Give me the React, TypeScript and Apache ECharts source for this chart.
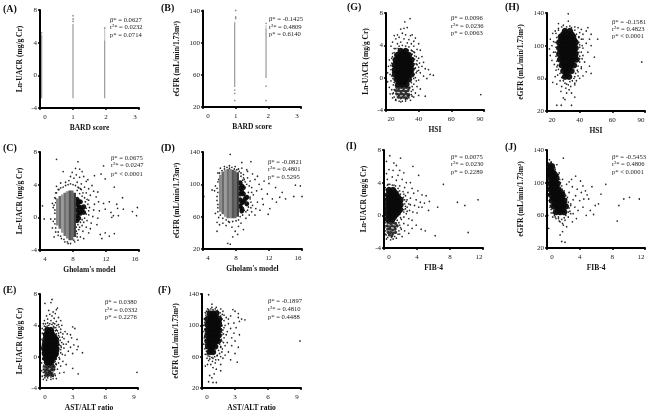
import React, { useEffect, useRef } from "react";
import * as echarts from "echarts";

// [x, low, high] vertical bands of stacked points
const aStrips = [[0.05, -2.8, 5.0], [1, -2.8, 6.3], [1.96, -2.8, 4.3], [1.96, 4.3, 5.7]];
const bStrips = [[0.97, 45, 125], [0.97, 125, 126], [1.93, 56, 118], [1.93, 118, 122]];
const aDots = [1, 6.6, 1, 6.9, 1, 7.3, 0.05, 5.2, 1.96, 5.8];
const bDots = [1, 140, 1, 132, 1, 130, 0.97, 41, 0.97, 37, 0.97, 28, 1.93, 46, 1.93, 28, 1.93, 124];
const cStripes = [[6.1, -1.0, 2.3], [6.4, -1.4, 2.6], [6.7, -1.9, 2.8], [7.0, -2.3, 3.0], [7.3, -2.6, 3.2], [7.6, -2.8, 3.3], [7.9, -2.8, 3.3], [8.2, -2.4, 3.0]];
const dStripes = [[6.1, 66, 112], [6.4, 63, 116], [6.7, 60, 118], [7.0, 58, 119], [7.3, 58, 119], [7.6, 58, 118], [7.9, 58, 117], [8.2, 60, 115]];

const cCore = [8.5, 2.2, 8.9, 1.9, 8.5, 1.6, 8.9, 1.2, 9.3, 1.3, 8.5, 0.9, 8.9, 0.5, 9.3, 0.6, 8.5, 0.2, 8.5, -0.4, 8.7, 1.9, 8.7, 1.3, 9.1, 0.9, 8.7, 0.6, 8.7, -0.1];
const dCore = [8.5, 102, 8.5, 95, 8.9, 96, 8.5, 88, 8.9, 88, 9.3, 84, 8.5, 81, 8.9, 79, 9.3, 76, 8.5, 73, 8.7, 67, 8.7, 98, 8.7, 91, 9.1, 82, 8.7, 77, 8.7, 70];
const eCore = [0.7, 3.4, 1.0, 3.4, 0.55, 2.8, 0.85, 2.8, 1.15, 2.8, 0.5, 2.2, 0.85, 2.2, 1.2, 2.2, 1.45, 2.2, 0.45, 1.6, 0.8, 1.6, 1.15, 1.6, 1.5, 1.6, 0.4, 1.0, 0.8, 1.0, 1.15, 1.0, 1.5, 1.0, 0.45, 0.4, 0.8, 0.4, 1.15, 0.4, 1.45, 0.4, 0.5, -0.2, 0.85, -0.2, 1.2, -0.2, 0.65, -0.7, 1.0, -0.7, 0.7, 3.1, 1.0, 3.1, 0.7, 2.5, 1.0, 2.5, 1.3, 2.5, 0.65, 1.9, 1.0, 1.9, 1.35, 1.9, 0.6, 1.3, 1.0, 1.3, 1.35, 1.3, 0.6, 0.7, 1.0, 0.7, 1.3, 0.7, 0.65, 0.1, 1.0, 0.1, 1.3, 0.1, 0.7, -0.45, 1.0, -0.45];
const eMid = [0.6, -1.0, 0.8, -1.1, 1.0, -1.0, 1.2, -1.1, 0.5, -1.3, 0.7, -1.4, 0.9, -1.3, 1.1, -1.4, 1.3, -1.3, 0.45, -1.7, 0.65, -1.7, 0.85, -1.8, 1.05, -1.7, 1.25, -1.7, 0.5, -2.0, 0.7, -2.1, 0.9, -2.0, 1.1, -2.1, 0.55, -2.4, 0.75, -2.4, 0.95, -2.3, 1.15, -2.4];
const fCore = [0.7, 115, 1.0, 115, 1.3, 115, 0.5, 108, 0.85, 108, 1.2, 108, 1.55, 108, 0.5, 101, 0.85, 101, 1.2, 101, 1.55, 101, 0.5, 94, 0.85, 94, 1.2, 94, 1.55, 94, 0.5, 87, 0.85, 87, 1.2, 87, 1.5, 87, 0.5, 80, 0.85, 80, 1.2, 80, 1.45, 80, 0.55, 73, 0.9, 73, 1.2, 73, 0.7, 66, 1.0, 66, 0.85, 111, 1.15, 111, 0.7, 104, 1.05, 104, 1.4, 104, 0.7, 97, 1.05, 97, 1.4, 97, 0.7, 90, 1.05, 90, 1.4, 90, 0.7, 83, 1.05, 83, 1.35, 83, 0.75, 76, 1.05, 76, 0.85, 69];
const gCore = [29, 3.3, 32, 3.3, 27, 2.8, 29.5, 2.8, 32, 2.8, 34, 2.8, 26, 2.2, 28.5, 2.2, 31, 2.2, 33.5, 2.2, 35.5, 2.2, 25.5, 1.6, 28, 1.6, 30.5, 1.6, 33, 1.6, 35.5, 1.6, 25.5, 1.0, 28, 1.0, 30.5, 1.0, 33, 1.0, 35.5, 1.0, 25.5, 0.4, 28, 0.4, 30.5, 0.4, 33, 0.4, 35.5, 0.4, 26.5, -0.2, 29, -0.2, 31.5, -0.2, 34, -0.2, 27.5, -0.8, 30, -0.8, 32.5, -0.8, 30.5, 3.0, 28, 2.5, 30.5, 2.5, 33, 2.5, 27, 1.9, 29.5, 1.9, 32, 1.9, 34.5, 1.9, 27, 1.3, 29.5, 1.3, 32, 1.3, 34.5, 1.3, 27, 0.7, 29.5, 0.7, 32, 0.7, 34.5, 0.7, 27.5, 0.1, 30, 0.1, 32.5, 0.1, 28.5, -0.5, 31, -0.5];
const gMid = [26.5, -1.2, 28, -1.3, 29.5, -1.2, 31, -1.3, 32.5, -1.2, 34, -1.3, 26, -1.6, 27.5, -1.6, 29, -1.7, 30.5, -1.6, 32, -1.7, 33.5, -1.6, 26.5, -2.0, 28, -2.1, 29.5, -2.0, 31, -2.1, 32.5, -2.0, 34, -2.1, 27.5, -2.4, 29, -2.5, 30.5, -2.4, 32, -2.5, 33.5, -2.3];
const hCore = [31, 118, 34, 118, 28.5, 111, 31, 111, 33.5, 111, 36, 111, 27.5, 104, 30, 104, 32.5, 104, 35, 104, 37.5, 104, 27.5, 97, 30, 97, 32.5, 97, 35, 97, 37.5, 97, 27.5, 90, 30, 90, 32.5, 90, 35, 90, 37.5, 90, 28, 83, 30.5, 83, 33, 83, 35.5, 83, 38, 83, 29, 76, 31.5, 76, 34, 76, 36.5, 76, 30, 69, 32.5, 69, 35, 69, 31, 62, 33.5, 62, 30, 114, 32.5, 114, 35, 114, 29, 107, 31.5, 107, 34, 107, 36.5, 107, 29, 100, 31.5, 100, 34, 100, 36.5, 100, 29, 93, 31.5, 93, 34, 93, 36.5, 93, 29.5, 86, 32, 86, 34.5, 86, 37, 86, 30, 79, 32.5, 79, 35, 79, 31, 72, 33.5, 72, 32, 65];
const iCore = [0.6, 3.1, 1.1, 3.1, 0.5, 2.5, 1.0, 2.5, 1.5, 2.5, 0.45, 1.9, 0.95, 1.9, 1.45, 1.9, 2.0, 1.9, 0.45, 1.3, 0.95, 1.3, 1.45, 1.3, 2.0, 1.3, 0.45, 0.7, 0.95, 0.7, 1.45, 0.7, 1.95, 0.7, 0.45, 0.1, 0.95, 0.1, 1.45, 0.1, 0.5, -0.5, 1.0, -0.5, 0.8, 2.8, 1.3, 2.8, 0.7, 2.2, 1.2, 2.2, 1.7, 2.2, 0.7, 1.6, 1.2, 1.6, 1.7, 1.6, 0.7, 1.0, 1.2, 1.0, 1.7, 1.0, 0.7, 0.4, 1.2, 0.4, 1.7, 0.4, 0.75, -0.2, 1.2, -0.2];
const iMid = [0.5, -0.9, 0.8, -1.0, 1.1, -0.9, 1.4, -1.0, 0.4, -1.3, 0.7, -1.4, 1.0, -1.3, 1.3, -1.4, 1.6, -1.3, 0.45, -1.7, 0.75, -1.7, 1.05, -1.8, 1.35, -1.7, 0.5, -2.1, 0.8, -2.1, 1.1, -2.2, 1.4, -2.1, 0.65, -2.4, 0.95, -2.5];
const jCore = [0.3, 120, 0.6, 120, 0.3, 113, 0.7, 113, 0.35, 106, 0.8, 106, 1.15, 106, 0.4, 99, 0.85, 99, 1.3, 99, 0.4, 92, 0.9, 92, 1.4, 92, 0.5, 85, 1.0, 85, 1.5, 85, 1.9, 85, 0.6, 78, 1.1, 78, 1.6, 78, 2.1, 78, 0.8, 71, 1.3, 71, 1.8, 71, 2.3, 71, 1.1, 64, 1.6, 64, 2.1, 64, 0.45, 116, 0.5, 110, 0.95, 110, 0.6, 102, 1.05, 102, 0.6, 95, 1.1, 95, 0.7, 88, 1.2, 88, 1.7, 88, 0.85, 81, 1.3, 81, 1.8, 81, 1.0, 74, 1.5, 74, 2.0, 74, 1.4, 67, 1.9, 67];

const cDots = [6.0, 7.1, 8.6, 6.8, 8.3, 6.0, 8.8, 5.9, 7.9, 5.5, 9.1, 5.6, 8.4, 5.2, 6.8, 5.6, 7.7, 5.0, 8.1, 4.8, 8.8, 4.9, 9.3, 5.0, 9.6, 4.4, 9.8, 4.6, 10.3, 3.9, 8.5, 4.3, 9.0, 4.1, 7.1, 4.3, 7.5, 4.5, 6.5, 4.2, 6.0, 3.8, 6.3, 3.4, 5.9, 3.0, 9.4, 3.7, 9.9, 3.5, 10.5, 3.2, 9.0, 3.4, 8.7, 3.6, 9.6, 3.0, 10.1, 2.7, 10.8, 2.5, 11.0, 3.1, 10.6, 5.1, 11.4, 5.3, 11.7, 6.3, 11.9, 4.7, 13.0, 3.7, 14.0, 2.4, 13.3, 1.6, 12.4, 1.9, 11.7, 1.7, 11.1, 1.9, 10.6, 1.6, 9.9, 2.1, 10.0, 1.2, 10.5, 0.9, 11.2, 0.8, 11.9, 1.0, 12.6, 0.6, 12.9, 0.2, 12.7, 0.0, 13.4, 1.1, 14.1, 1.0, 13.5, 0.2, 15.8, 1.2, 15.2, 0.7, 15.7, 0.2, 9.9, 0.3, 10.4, 0.1, 11.0, -0.1, 9.7, -0.4, 9.3, -0.6, 10.2, -0.7, 10.9, -0.9, 9.1, -1.0, 9.6, -1.2, 10.1, -1.4, 8.7, -1.5, 9.2, -1.7, 9.9, -1.9, 11.3, -2.1, 11.9, -1.9, 12.4, -2.3, 13.0, -2.0, 11.5, -2.6, 8.5, -2.0, 8.9, -2.4, 9.3, -2.6, 8.6, -2.8, 8.2, -3.0, 7.0, -3.0, 7.4, -3.2, 6.6, -2.6, 6.2, -2.2, 5.9, -1.8, 5.7, -2.4, 5.5, -1.3, 5.8, -0.8, 5.3, -0.2, 4.5, -0.2, 5.5, 1.7, 5.6, 1.2, 5.8, 0.5, 5.9, 1.8, 4.3, 1.4, 5.6, -0.5, 5.9, 2.3, 6.0, 3.0, 6.2, 3.4, 6.5, 3.6, 6.8, 3.7, 7.1, 3.9, 7.4, 4.0, 7.7, 4.1, 8.0, 4.0, 8.3, 3.9, 8.6, 3.7, 8.9, 3.5, 9.2, 3.0, 8.5, 3.3, 8.8, 2.9, 9.1, 2.6, 9.4, 2.4, 9.7, 2.2, 9.5, 1.9, 9.8, 1.6, 9.6, 1.1, 9.9, 0.8, 9.6, 0.4, 9.4, -0.1, 9.1, -0.3, 8.9, -0.6, 8.6, -0.9, 8.4, -1.2, 8.8, -1.2, 8.4, -1.7, 8.3, -2.2, 8.5, -2.4, 8.1, -2.8, 7.7, -3.2, 7.3, -3.0, 6.9, -2.7, 6.5, -2.3, 6.2, -1.8, 5.9, -1.3, 5.8, -0.2, 5.8, 0.9, 5.7, 1.5, 5.8, 2.4];
const dDots = [4.1, 85, 15.8, 98, 16, 85, 15, 85, 15.2, 99, 14, 82, 13.3, 84, 13.6, 90, 12.8, 96, 12.9, 78, 12.4, 82, 12.1, 70, 11.8, 88, 12.0, 101, 11.4, 104, 10.8, 100, 11.1, 94, 10.3, 106, 10.6, 110, 9.8, 128, 8.7, 127, 7.3, 137, 9.4, 116, 8.9, 112, 9.7, 104, 9.3, 118, 8.3, 119, 8.7, 120, 7.9, 122, 7.2, 123, 6.6, 122, 6.1, 120, 5.8, 114, 5.9, 106, 5.5, 98, 5.8, 90, 5.4, 92, 5.1, 93, 5.7, 80, 5.8, 71, 5.5, 64, 5.9, 59, 5.7, 53, 6.0, 50, 5.7, 42, 6.4, 52, 6.8, 49, 7.1, 54, 7.5, 47, 7.9, 42, 8.3, 48, 8.6, 52, 8.9, 44, 8.2, 38, 7.6, 35, 7.0, 27, 7.3, 26, 9.2, 58, 9.6, 62, 9.9, 66, 10.4, 70, 10.0, 74, 10.6, 78, 11.2, 82, 9.7, 82, 10.1, 87, 10.5, 92, 9.9, 96, 9.5, 90, 9.8, 71, 10.3, 62, 9.2, 66, 10.9, 68, 9.4, 108, 10.0, 113, 8.6, 110, 9.0, 106, 11.3, 75, 11.9, 63, 6.0, 114, 6.3, 117, 6.6, 119, 6.9, 121, 7.2, 120, 7.5, 121, 7.8, 119, 8.1, 118, 8.4, 116, 8.6, 114, 8.9, 108, 9.1, 103, 8.8, 105, 9.3, 100, 9.6, 98, 9.9, 90, 9.7, 84, 9.8, 78, 9.5, 72, 9.4, 68, 9.0, 68, 8.8, 62, 8.5, 60, 8.3, 56, 8.0, 55, 7.6, 54, 7.2, 53, 6.8, 56, 6.4, 58, 6.1, 62, 5.8, 66, 5.8, 75, 5.7, 85, 5.7, 95, 5.8, 103];
const eDots = [0.45, 6.8, 1.1, 7.3, 1.0, 6.9, 1.6, 6.2, 1.5, 6.0, 1.2, 5.7, 0.8, 5.9, 1.4, 5.5, 0.9, 5.4, 0.6, 5.2, 1.1, 5.2, 1.3, 4.9, 1.7, 5.0, 1.9, 4.6, 1.5, 4.5, 0.7, 4.8, 0.4, 4.6, 1.0, 4.6, 0.3, 4.2, 1.2, 4.3, 1.7, 4.1, 2.0, 4.0, 3.0, 3.8, 3.2, 3.6, 2.3, 3.2, 2.5, 2.9, 2.8, 2.8, 1.9, 3.5, 2.1, 2.9, 3.4, 2.2, 2.9, 2.4, 2.2, 2.3, 2.6, 1.9, 3.1, 1.5, 3.5, 1.3, 2.4, 1.6, 2.0, 1.8, 2.8, 1.2, 3.4, 0.9, 3.9, 0.5, 2.2, 1.1, 2.6, 0.7, 3.0, 0.4, 2.3, 0.2, 1.9, 0.5, 1.8, -0.3, 2.1, -0.6, 2.4, -1.0, 3.0, -1.5, 3.5, -2.2, 8.9, -2.0, 1.9, -1.2, 1.6, -1.6, 1.8, -2.1, 2.2, -2.0, 1.4, -2.4, 1.5, -2.8, 0.3, -2.9, 0.6, -3.0, 1.0, -2.9, 0.2, -2.5, 0.15, -1.8, 0.15, -0.8, 0.05, 0.5, 0.1, 1.3, 0.1, 2.2, 0.2, 3.0, 0.2, 3.6, 1.7, 3.0, 1.6, 0.2, 1.7, -0.8, 1.4, -0.6, 1.8, 2.5, 1.9, 1.4, 1.7, 0.9, 1.5, 3.4, 1.3, 3.7, 0.8, 4.0, 0.5, 3.8, 0.25, -0.3, 0.25, 0.9, 0.3, -1.3, 1.5, -1.0, 0.5, 4.2, 0.7, 4.3, 0.9, 4.2, 1.1, 4.1, 1.35, 4.2, 1.55, 4.0, 0.4, 3.9, 0.65, 3.9, 1.25, 3.85, 1.45, 3.7, 1.75, 3.8, 0.35, 3.4, 0.5, 3.6, 1.4, 3.3, 1.6, 3.3, 1.9, 3.1, 0.3, 2.9, 0.35, 2.5, 1.5, 2.9, 1.7, 2.7, 1.65, 2.3, 1.85, 2.1, 2.05, 2.5, 0.25, 2.0, 0.3, 1.5, 1.7, 1.9, 1.75, 1.5, 1.95, 1.2, 2.15, 1.6, 0.2, 1.1, 0.25, 0.6, 1.7, 1.1, 1.7, 0.7, 1.9, 0.9, 2.05, 0.3, 0.3, 0.2, 0.3, -0.3, 1.6, 0.5, 1.55, 0.1, 1.5, -0.3, 1.75, -0.1, 0.4, -0.7, 1.3, -0.7, 1.45, -0.9, 0.35, -1.1, 0.3, -1.6, 1.35, -1.6, 0.3, -2.0, 1.35, -2.2, 1.2, -2.5, 0.4, -2.4, 0.45, -2.7, 0.7, -2.7, 1.0, -2.6, 1.2, -2.8];
const fDots = [0.6, 139, 0.9, 127, 2.8, 120, 3.0, 118, 3.3, 115, 3.6, 108, 3.9, 107, 3.4, 105, 3.3, 110, 2.6, 112, 2.4, 108, 2.9, 103, 3.1, 97, 2.4, 102, 2.2, 110, 2.0, 113, 1.9, 118, 1.7, 121, 1.3, 123, 0.9, 123, 0.5, 121, 0.3, 116, 0.2, 108, 0.15, 100, 0.1, 92, 0.2, 84, 0.15, 76, 0.25, 70, 0.3, 63, 0.45, 58, 2.1, 100, 2.6, 96, 2.3, 92, 2.9, 90, 2.2, 88, 3.4, 88, 2.7, 84, 2.0, 84, 3.0, 80, 2.3, 78, 2.7, 74, 2.1, 74, 3.3, 72, 2.4, 66, 3.0, 64, 2.1, 62, 2.6, 56, 3.2, 53, 1.8, 66, 1.9, 58, 1.5, 56, 1.7, 50, 1.2, 52, 0.8, 50, 0.5, 50, 0.3, 48, 1.0, 46, 1.3, 44, 1.7, 42, 1.1, 38, 0.7, 36, 0.9, 33, 0.6, 28, 1.0, 27, 1.3, 27, 8.9, 80, 1.8, 108, 1.8, 100, 1.9, 94, 1.8, 88, 1.8, 80, 1.7, 72, 1.0, 58, 0.7, 57, 1.4, 62, 0.6, 120, 0.8, 121, 1.0, 120, 1.2, 121, 1.4, 119, 0.4, 118, 0.55, 118, 1.5, 117, 1.65, 116, 1.85, 114, 0.35, 113, 0.3, 109, 1.7, 112, 1.8, 108, 2.0, 106, 0.25, 104, 0.3, 100, 1.75, 104, 1.8, 99, 2.0, 97, 0.25, 95, 0.3, 90, 1.75, 95, 1.8, 91, 1.95, 89, 0.25, 86, 0.3, 81, 1.7, 86, 1.75, 82, 1.95, 78, 0.3, 76, 0.35, 71, 1.6, 76, 1.7, 73, 1.85, 70, 0.4, 67, 0.45, 63, 1.5, 68, 1.6, 64, 1.7, 60, 0.55, 61, 0.7, 60, 0.9, 59, 1.15, 60, 1.35, 61, 0.6, 55, 0.95, 54, 1.25, 56];
const gDots = [34.7, 7.3, 31.5, 6.9, 29, 6.0, 31, 6.1, 33, 6.2, 27, 5.3, 25, 5.2, 30, 5.5, 32, 5.3, 35, 5.2, 28, 5.0, 36, 5.3, 38, 4.9, 26, 4.8, 31, 4.8, 34, 4.7, 37, 4.5, 40, 4.2, 24, 4.4, 29, 4.4, 33, 4.3, 35.5, 4.2, 27, 4.2, 23, 3.9, 25, 3.6, 37, 3.9, 39, 3.5, 41, 3.4, 24, 3.0, 37.5, 3.1, 38.5, 2.6, 40, 2.4, 42, 2.6, 43, 1.9, 22, 2.2, 23.5, 2.4, 21.5, 1.4, 23, 1.5, 38.5, 1.7, 40, 1.3, 42, 1.4, 44, 1.1, 46, 1.0, 49, 0.3, 47, 0.4, 39, 0.8, 41, 0.6, 43, 0.2, 45, -0.1, 21, 0.6, 22.5, 0.4, 23, -0.4, 21, -0.5, 38, 0.0, 40, -0.3, 37, -0.8, 39, -1.1, 41, -1.4, 36.5, -1.5, 38, -1.9, 44, -2.3, 40, -2.2, 78, -2.1, 36, -2.3, 35, -2.8, 32, -2.9, 29, -3.0, 26, -2.8, 24, -2.5, 22.5, -2.0, 23.5, -1.5, 22, -1.2, 24.5, -0.9, 37, -2.4, 24, -2.0, 33, -2.6, 36, 3.3, 24, 1.0, 38, 1.2, 36.5, 2.4, 28, 3.9, 30, 4.0, 32, 3.9, 34, 3.8, 26, 3.6, 27.5, 3.6, 33.5, 3.4, 35.5, 3.4, 37, 3.2, 25, 3.1, 25.5, 2.8, 36, 2.9, 37.5, 2.7, 24, 2.6, 24.5, 2.2, 37.5, 2.3, 39, 2.1, 23.5, 1.8, 24, 1.4, 37.5, 1.7, 39, 1.6, 40.5, 1.8, 23, 1.0, 24, 0.7, 37.5, 1.1, 38.5, 0.6, 40, 0.9, 23.5, 0.2, 24.2, -0.1, 37.3, 0.4, 37, -0.1, 38.5, -0.4, 25, -0.6, 25.8, -1.0, 35.5, -0.6, 36, -1.1, 34.5, -1.2, 25, -1.5, 24.5, -1.9, 35.5, -1.7, 35.5, -2.1, 25, -2.4, 26, -2.7, 28, -2.9, 30, -2.9, 32, -2.7, 34, -2.5];
const hDots = [33, 139, 27, 127, 33, 130, 30, 125, 34, 124, 37, 123, 39, 122, 41, 120, 45, 122, 44, 118, 47, 114, 51, 108, 46, 108, 42, 114, 40, 116, 25, 118, 27, 121, 23.5, 115, 22, 108, 23, 100, 21.5, 96, 24, 92, 22, 88, 23, 82, 24.5, 77, 25.5, 70, 26.5, 64, 25, 62, 23.5, 55, 26, 53, 28, 57, 29, 50, 32, 53, 34, 56, 37, 52, 28.5, 44, 32, 42, 35, 42, 37, 37, 31, 34, 30, 36, 26, 27, 28.7, 27, 35, 27, 42, 108, 44, 103, 47, 100, 42, 97, 40, 101, 45, 92, 42, 88, 49, 86, 40, 84, 43, 80, 46, 75, 41, 74, 47, 66, 44, 68, 42, 63, 40, 60, 39, 68, 38, 57, 78, 80, 39.5, 110, 24, 105, 26, 74, 37, 62, 41, 92, 29, 123, 32, 123, 35, 122, 37, 119, 27, 119, 25.5, 115, 26, 110, 38, 114, 39.5, 111, 41, 108, 25, 104, 25.5, 98, 39.5, 104, 40, 98, 41.5, 100, 25, 92, 25.5, 87, 39.5, 92, 40, 87, 41.5, 84, 26, 81, 26.5, 76, 40, 80, 39, 75, 41, 72, 27, 71, 28, 66, 38.5, 70, 37.5, 66, 39, 63, 29, 61, 30, 57, 36.5, 60, 35.5, 57, 37, 54, 31, 54, 33, 52, 34.5, 50, 31.5, 48, 33.5, 46];
const iDots = [11.4, 1.9, 10.2, -2.1, 9.8, 1.2, 8.9, 1.6, 7.2, 3.8, 6.2, -2.5, 6.5, 1.0, 5.5, 1.7, 5.4, 0.6, 5.0, -1.9, 4.5, -1.7, 3.5, 6.0, 4.2, 4.9, 2.0, 7.0, 0.7, 7.3, 1.2, 6.4, 1.5, 6.1, 0.3, 6.6, 1.9, 5.5, 1.1, 5.5, 0.6, 5.6, 2.4, 5.2, 1.7, 4.9, 0.3, 5.1, 1.0, 4.7, 0.4, 4.4, 1.5, 4.3, 2.2, 4.4, 2.7, 4.0, 3.2, 4.0, 3.4, 3.3, 2.5, 3.4, 1.9, 3.6, 2.9, 2.8, 3.6, 2.7, 4.1, 3.0, 4.6, 2.5, 5.1, 2.4, 2.6, 2.4, 3.2, 2.1, 3.9, 1.9, 4.4, 1.6, 4.9, 1.5, 2.7, 1.7, 3.2, 1.3, 3.7, 1.2, 4.2, 1.0, 4.6, 1.0, 2.8, 1.0, 3.1, 0.6, 3.5, 0.4, 4.0, 0.3, 2.7, 0.2, 2.4, -0.2, 3.0, -0.4, 3.4, -0.6, 3.9, -1.2, 3.4, -1.6, 2.9, -1.2, 2.4, -1.0, 2.0, -1.5, 2.5, -1.9, 3.0, -2.2, 1.9, -2.3, 2.2, -2.6, 1.5, -2.8, 0.8, -3.0, 0.3, -2.9, 0.15, -2.3, 0.1, -1.5, 0.1, -0.6, 0.1, 0.4, 0.1, 1.5, 0.1, 2.5, 0.15, 3.4, 0.5, 3.8, 1.2, 3.7, 1.9, 3.0, 2.4, 2.6, 2.6, 0.8, 2.1, -0.5, 0.4, 3.7, 0.7, 3.8, 1.0, 3.7, 1.4, 3.6, 1.7, 3.3, 0.25, 3.1, 0.2, 2.6, 1.7, 2.9, 2.0, 2.6, 2.3, 2.9, 0.2, 2.0, 0.2, 1.5, 2.35, 2.2, 2.5, 1.9, 2.8, 1.9, 0.2, 0.9, 2.5, 1.4, 2.6, 1.1, 3.0, 1.4, 0.2, 0.3, 2.4, 0.7, 2.4, 0.4, 2.8, 0.5, 0.2, -0.3, 1.9, 0.1, 2.0, -0.3, 1.6, -0.6, 1.8, -0.9, 0.2, -0.9, 0.2, -1.3, 1.9, -1.2, 2.1, -1.7, 0.2, -1.9, 0.25, -2.4, 1.8, -1.9, 1.7, -2.3, 0.45, -2.7, 0.9, -2.7, 1.3, -2.6, 1.1, -2.9];
const jDots = [11.3, 80, 10.1, 82, 9.4, 80, 8.8, 72, 8.6, 53, 7.2, 98, 6.6, 86, 6.3, 74, 5.9, 72, 5.5, 95, 5.1, 80, 4.9, 85, 5.3, 66, 5.7, 61, 4.7, 90, 4.4, 96, 4.1, 102, 3.5, 108, 3.0, 104, 2.0, 130, 0.3, 128, 0.5, 125, 1.2, 122, 1.0, 116, 1.5, 112, 1.9, 104, 2.4, 98, 2.7, 101, 3.1, 95, 3.7, 92, 4.2, 88, 4.5, 80, 4.0, 78, 3.5, 84, 3.2, 79, 2.7, 88, 2.5, 82, 2.9, 74, 3.4, 70, 3.8, 66, 4.4, 70, 4.8, 60, 3.2, 62, 2.8, 65, 2.6, 58, 3.1, 52, 3.6, 56, 2.2, 54, 2.4, 46, 1.9, 50, 1.5, 53, 1.1, 56, 0.7, 58, 0.5, 63, 0.35, 70, 0.3, 78, 0.15, 86, 0.1, 60, 0.2, 44, 1.9, 40, 1.8, 28, 2.2, 27, 1.6, 36, 1.6, 92, 2.1, 90, 2.2, 70, 1.4, 58, 0.2, 124, 0.5, 125, 0.8, 122, 0.15, 116, 0.2, 108, 0.95, 118, 1.05, 113, 1.4, 110, 0.2, 100, 0.2, 92, 1.55, 104, 1.65, 100, 1.8, 96, 0.25, 85, 0.3, 78, 1.85, 92, 2.1, 88, 2.3, 84, 0.4, 72, 0.5, 67, 2.4, 80, 2.6, 76, 2.9, 72, 0.7, 63, 0.9, 60, 2.7, 69, 2.6, 64, 2.9, 62, 1.0, 58, 1.4, 56, 2.3, 60, 2.1, 57, 1.8, 55, 1.6, 52, 2.0, 48];

const stats = {
  A: ["β* = 0.0627", "r²* = 0.0232", "p* = 0.0714"],
  B: ["β* = -0.1425", "r²* = 0.4809", "p* = 0.6140"],
  C: ["β* = 0.0675", "r²* = 0.0247", "p* < 0.0001"],
  D: ["β* = -0.0821", "r²* = 0.4801", "p* = 0.5295"],
  E: ["β* = 0.0380", "r²* = 0.0332", "p* = 0.2276"],
  F: ["β* = -0.1897", "r²* = 0.4810", "p* = 0.4488"],
  G: ["β* = 0.0096", "r²* = 0.0236", "p* = 0.0063"],
  H: ["β* = -0.1581", "r²* = 0.4823", "p* < 0.0001"],
  I: ["β* = 0.0075", "r²* = 0.0230", "p* = 0.2289"],
  J: ["β* = -0.5453", "r²* = 0.4806", "p* < 0.0001"],
};
const uacrName = "Ln-UACR (mg/g Cr)";
const gfrName = "eGFR (mL/min/1.73m²)";
const hsiTickLabels: Record<number, string> = { 20: "20", 40: "40", 60: "60", 80: "90" };

const SERIF = "'Liberation Serif', serif";
const pairs = (a: number[]) => {
  const out: number[][] = [];
  for (let i = 0; i < a.length; i += 2) out.push([a[i], a[i + 1]]);
  return out;
};

type P = {
  id: string; l: number; r: number; t: number; b: number; xr: number[]; xi: number; xName: string; gfr: boolean;
  lx: number; ly: number; sx: number; sy: number[]; dots?: number[]; core?: number[]; mid?: number[]; strips?: number[][]; stripes?: number[][]; labels?: Record<number, string>;
};
const panels: P[] = [
  { id: "A", l: 40, r: 139, t: 10, b: 108, xr: [0, 3], xi: 1, xName: "BARD score", gfr: false, lx: 3, ly: 8, sx: 110, sy: [19, 26, 34], dots: aDots, strips: aStrips },
  { id: "B", l: 203, r: 301, t: 10.5, b: 107, xr: [0, 3], xi: 1, xName: "BARD score", gfr: true, lx: 161, ly: 7, sx: 269, sy: [18, 26, 33], dots: bDots, strips: bStrips },
  { id: "C", l: 40, r: 139, t: 152, b: 250, xr: [4, 16], xi: 4, xName: "Gholam's model", gfr: false, lx: 3, ly: 147, sx: 111, sy: [157, 164, 173], dots: cDots, core: cCore, stripes: cStripes },
  { id: "D", l: 203, r: 302, t: 152, b: 249, xr: [4, 16], xi: 4, xName: "Gholam's model", gfr: true, lx: 161, ly: 147, sx: 268, sy: [161, 168, 176], dots: dDots, core: dCore, stripes: dStripes },
  { id: "E", l: 40, r: 138, t: 294, b: 392, xr: [0, 9], xi: 3, xName: "AST/ALT ratio", gfr: false, lx: 3, ly: 289, sx: 105, sy: [301, 309, 316], dots: eDots, core: eCore, mid: eMid },
  { id: "F", l: 202, r: 301, t: 294, b: 391, xr: [0, 9], xi: 3, xName: "AST/ALT ratio", gfr: true, lx: 158, ly: 289, sx: 268, sy: [300, 308, 316], dots: fDots, core: fCore },
  { id: "G", l: 386, r: 484, t: 13, b: 110, xr: [20, 80], xi: 20, xName: "HSI", gfr: false, lx: 347, ly: 6, sx: 451, sy: [17, 25, 32], dots: gDots, core: gCore, mid: gMid, labels: hsiTickLabels },
  { id: "H", l: 547, r: 645, t: 13, b: 111, xr: [20, 80], xi: 20, xName: "HSI", gfr: true, lx: 505, ly: 6, sx: 612, sy: [21, 28, 35], dots: hDots, core: hCore, labels: hsiTickLabels },
  { id: "I", l: 384, r: 483, t: 150, b: 248, xr: [0, 12], xi: 4, xName: "FIB-4", gfr: false, lx: 346, ly: 145, sx: 451, sy: [156, 163, 171], dots: iDots, core: iCore, mid: iMid },
  { id: "J", l: 547, r: 645, t: 150, b: 248, xr: [0, 12], xi: 4, xName: "FIB-4", gfr: true, lx: 505, ly: 146, sx: 612, sy: [156, 163, 171], dots: jDots, core: jCore },
];

function buildOption() {
  const grid: any[] = [], xAxis: any[] = [], yAxis: any[] = [], series: any[] = [], graphic: any[] = [];
  panels.forEach((p, i) => {
    grid.push({ left: p.l, top: p.t, width: p.r - p.l, height: p.b - p.t });
    const lab = (v: number) => (p.labels ? p.labels[v] : String(v));
    xAxis.push({
      type: "value", gridIndex: i, min: p.xr[0], max: p.xr[1], interval: p.xi,
      name: p.xName, nameLocation: "middle", nameGap: 15,
      nameTextStyle: { fontFamily: SERIF, fontSize: 7.5, fontWeight: "bold", color: "#111" },
      axisLine: { onZero: false, lineStyle: { color: "#000", width: 2 } },
      axisTick: { length: 2, lineStyle: { color: "#000", width: 1.5 } },
      splitLine: { show: false },
      axisLabel: {
        fontFamily: SERIF, fontSize: 7, color: "#222", margin: 5, showMinLabel: true, showMaxLabel: true,
        hideOverlap: false,
        formatter: (v: number) => (v === p.xr[0] ? `{a|${lab(v)}}` : v === p.xr[1] ? `{z|${lab(v)}}` : lab(v)),
        rich: {
          a: { fontFamily: SERIF, fontSize: 7, color: "#222", padding: [0, 0, 0, 10] },
          z: { fontFamily: SERIF, fontSize: 7, color: "#222", padding: [0, 8, 0, 0] },
        },
      },
    });
    yAxis.push({
      type: "value", gridIndex: i,
      min: p.gfr ? 20 : -4, max: p.gfr ? 140 : 8,
      ...(p.gfr ? {} : { interval: 4 }),
      name: p.gfr ? gfrName : uacrName, nameLocation: "middle", nameGap: p.gfr ? 23 : 17,
      nameTextStyle: { fontFamily: SERIF, fontSize: 7.5, fontWeight: "bold", color: "#111" },
      axisLine: { onZero: false, lineStyle: { color: "#000", width: 2 } },
      axisTick: { length: 2, lineStyle: { color: "#000", width: 1.5 }, ...(p.gfr ? { customValues: [20, 60, 100, 140] } : {}) },
      splitLine: { show: false },
      axisLabel: { fontFamily: SERIF, fontSize: 7, color: "#222", margin: 3, ...(p.gfr ? { customValues: [20, 60, 100, 140] } : {}) },
    });
    const base = { xAxisIndex: i, yAxisIndex: i, silent: true };
    (p.strips || []).forEach((s, k) =>
      series.push({ ...base, type: "line", symbol: "none", data: [[s[0], s[1]], [s[0], s[2]]], lineStyle: { color: k === 3 ? "#c8c8c8" : "#999", width: 1.2 } }));
    if (p.dots) series.push({ ...base, type: "scatter", data: pairs(p.dots), symbolSize: 1.6, itemStyle: { color: "#000", opacity: p.strips ? 0.45 : 0.85 } });
    if (p.mid) series.push({ ...base, type: "scatter", data: pairs(p.mid), symbolSize: 3.2, itemStyle: { color: "#111", opacity: 0.85 } });
    (p.stripes || []).forEach((s, k) =>
      series.push({ ...base, type: "line", symbol: "none", data: [[s[0], s[1]], [s[0], s[2]]], lineStyle: { color: ["#8a8a8a", "#6a6a6a", "#9a9a9a", "#707070", "#888", "#555", "#666", "#3a3a3a"][k], width: 2.6 } }));
    if (p.core) series.push({ ...base, type: "scatter", data: pairs(p.core), symbolSize: p.id === "C" || p.id === "D" ? 5 : 6.5, itemStyle: { color: "#0a0a0a", opacity: 0.95 } });

    graphic.push({ type: "text", x: p.lx, y: p.ly, style: { text: `(${p.id})`, font: `bold 10px ${SERIF}`, fill: "#111", textVerticalAlign: "middle" } });
    (stats as any)[p.id].forEach((t: string, k: number) =>
      graphic.push({ type: "text", x: p.sx, y: p.sy[k], style: { text: t, font: `6.6px ${SERIF}`, fill: "#222", textVerticalAlign: "middle" } }));
  });
  return { animation: false, backgroundColor: "#fff", grid, xAxis, yAxis, series, graphic };
}

export default function App() {
  const ref = useRef<HTMLDivElement>(null);
  useEffect(() => {
    const chart = echarts.init(ref.current!, undefined, { renderer: "svg" });
    chart.setOption(buildOption() as any);
    return () => chart.dispose();
  }, []);
  return <div ref={ref} style={{ position: "absolute", left: 0, top: 0, width: 648, height: 412, filter: "blur(0.45px)" }} />;
}
